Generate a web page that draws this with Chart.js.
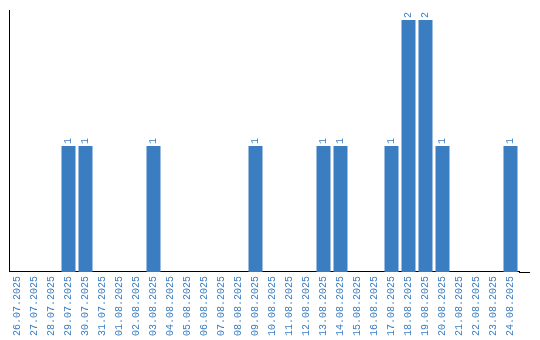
<!DOCTYPE html>
<html><head><meta charset="utf-8">
<script src="https://cdn.jsdelivr.net/npm/chart.js@4/dist/chart.umd.min.js"></script>
<style>html,body{margin:0;padding:0;background:#fff}#w{width:540px;height:340px}</style>
</head><body><div id="w"><canvas id="c"></canvas></div>
<script>
const categories = ["26.07.2025","27.07.2025","28.07.2025","29.07.2025","30.07.2025","31.07.2025","01.08.2025","02.08.2025","03.08.2025","04.08.2025","05.08.2025","06.08.2025","07.08.2025","08.08.2025","09.08.2025","10.08.2025","11.08.2025","12.08.2025","13.08.2025","14.08.2025","15.08.2025","16.08.2025","17.08.2025","18.08.2025","19.08.2025","20.08.2025","21.08.2025","22.08.2025","23.08.2025","24.08.2025"];
const counts = [0,0,0,1,1,0,0,0,1,0,0,0,0,0,1,0,0,0,1,1,0,0,1,2,2,1,0,0,0,1];
const BLUE = '#3b7dc1';
const FONT = '"Liberation Mono", monospace';

const valueLabels = {
  id: 'valueLabels',
  afterDatasetsDraw(chart) {
    const ctx = chart.ctx;
    const meta = chart.getDatasetMeta(0);
    ctx.save();
    ctx.fillStyle = BLUE;
    ctx.font = '10px ' + FONT;
    ctx.textAlign = 'left';
    ctx.textBaseline = 'middle';
    meta.data.forEach((bar, i) => {
      const v = counts[i];
      if (!v) return;
      ctx.save();
      ctx.translate(bar.x, bar.y - 2);
      ctx.rotate(-Math.PI / 2);
      ctx.fillText(String(v), 0, 0);
      ctx.restore();
    });
    ctx.restore();
  }
};

// extends the x-axis baseline a little past the last category, as in the reference
const axisExtension = {
  id: 'axisExtension',
  afterDraw(chart) {
    const { ctx, chartArea } = chart;
    ctx.save();
    ctx.strokeStyle = '#000';
    ctx.lineWidth = 1;
    const y = Math.round(chartArea.bottom) + 0.5;
    ctx.beginPath();
    ctx.moveTo(chartArea.right, y);
    ctx.lineTo(chartArea.right + 11, y);
    ctx.stroke();
    ctx.restore();
  }
};

new Chart(document.getElementById('c'), {
  type: 'bar',
  data: { labels: categories, datasets: [{ data: counts, backgroundColor: BLUE, barPercentage: 0.8235, categoryPercentage: 1.0 }] },
  options: {
    responsive: true, maintainAspectRatio: false, animation: false,
    layout: { padding: { left: 9, right: 21, top: 10, bottom: 0 } },
    plugins: { legend: { display: false }, tooltip: { enabled: false } },
    scales: {
      x: {
        grid: { display: false, drawTicks: false },
        border: { display: true, color: '#000', width: 1 },
        ticks: { color: BLUE, font: { family: FONT, size: 10 }, minRotation: 90, maxRotation: 90, autoSkip: false, padding: 4 }
      },
      y: {
        min: 0, max: 2.08,
        grid: { display: false, drawTicks: false },
        border: { display: true, color: '#000', width: 1 },
        ticks: { display: false }
      }
    }
  },
  plugins: [valueLabels, axisExtension]
});
</script></body></html>
